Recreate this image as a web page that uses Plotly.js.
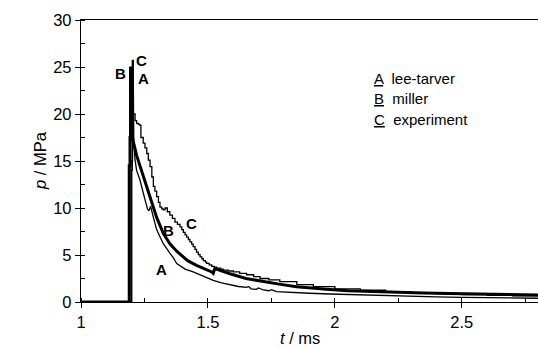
<!DOCTYPE html>
<html>
<head>
<meta charset="utf-8">
<script src="https://cdn.plot.ly/plotly-3.0.1.min.js"></script>
<style>html,body{margin:0;padding:0;background:#fff;}#chart{width:538px;height:349px;}</style>
</head>
<body>
<div id="chart"></div>
<script>
// A: lee-tarver
const aX = [1, 1.197, 1.197, 1.203, 1.203, 1.206, 1.208, 1.213, 1.219, 1.232, 1.252, 1.262, 1.268, 1.274, 1.285, 1.298, 1.311, 1.324, 1.350, 1.364, 1.377, 1.41, 1.442, 1.455, 1.48, 1.521, 1.55, 1.587, 1.62, 1.652, 1.66, 1.67, 1.69, 1.70, 1.718, 1.74, 1.75, 1.77, 1.80, 1.849, 1.9, 1.98, 2.1, 2.2, 2.3, 2.4, 2.5, 2.6, 2.7, 2.8];
const aY = [0, 0, 15, 15, 23.5, 23.5, 17, 15.1, 14.0, 13.0, 10.9, 9.9, 9.7, 10.2, 9.0, 7.7, 6.95, 6.2, 5.2, 4.7, 4.1, 3.5, 3.2, 3.05, 2.7, 2.3, 2.05, 1.8, 1.65, 1.55, 1.65, 1.4, 1.35, 1.5, 1.28, 1.2, 1.32, 1.1, 1.05, 1.0, 0.93, 0.85, 0.75, 0.68, 0.6, 0.55, 0.5, 0.46, 0.43, 0.4];
// B: miller
const bX = [1, 1.19, 1.19, 1.193, 1.193, 1.195, 1.195, 1.198, 1.2, 1.205, 1.219, 1.24, 1.259, 1.272, 1.298, 1.324, 1.35, 1.377, 1.39, 1.42, 1.455, 1.49, 1.515, 1.521, 1.527, 1.55, 1.587, 1.65, 1.718, 1.78, 1.849, 1.9, 1.967, 2.05, 2.15, 2.25, 2.35, 2.45, 2.55, 2.65, 2.8];
const bY = [0, 0, 14.5, 14.5, 17.5, 17.5, 24.9, 24.9, 18, 17.2, 15.6, 13.8, 12.1, 11.0, 9.0, 7.3, 6.2, 5.4, 5.1, 4.4, 3.9, 3.5, 3.2, 3.05, 3.55, 3.35, 3.0, 2.5, 2.16, 1.9, 1.63, 1.5, 1.35, 1.2, 1.1, 1.0, 0.95, 0.9, 0.85, 0.8, 0.75];
// C: experiment
const cX = [1, 1.2, 1.2, 1.202, 1.202, 1.204, 1.206, 1.213, 1.219, 1.226, 1.232, 1.236, 1.245, 1.252, 1.259, 1.265, 1.272, 1.279, 1.285, 1.291, 1.298, 1.305, 1.311, 1.318, 1.324, 1.331, 1.34, 1.35, 1.36, 1.37, 1.38, 1.39, 1.397, 1.403, 1.41, 1.416, 1.423, 1.429, 1.436, 1.442, 1.449, 1.455, 1.462, 1.469, 1.476, 1.482, 1.49, 1.495, 1.505, 1.515, 1.525, 1.534, 1.55, 1.56, 1.58, 1.6, 1.625, 1.652, 1.68, 1.705, 1.74, 1.783, 1.85, 1.915, 2.0, 2.1, 2.2, 2.3, 2.4, 2.5, 2.6, 2.7, 2.8];
const cY = [0, 0, 14, 14, 25.7, 25.7, 20, 19.3, 19.0, 18.9, 18.8, 17.5, 16.9, 16.4, 15.8, 15.1, 14.4, 13.3, 12.3, 11.8, 11.2, 10.6, 10.1, 9.9, 9.8, 10.0, 9.6, 9.25, 8.9, 8.5, 8.25, 8.0, 7.7, 7.4, 7.15, 6.9, 6.65, 6.4, 6.15, 5.9, 5.6, 5.3, 5.05, 4.8, 4.6, 4.4, 4.25, 4.1, 3.95, 3.8, 3.7, 3.6, 3.5, 3.4, 3.3, 3.2, 3.05, 2.9, 2.7, 2.5, 2.35, 2.16, 1.85, 1.63, 1.4, 1.25, 1.1, 1.0, 0.9, 0.8, 0.72, 0.65, 0.6];

const xTicks = [1, 1.5, 2, 2.5];
const xTickText = ['1', '1.5', '2', '2.5'];
const yTicks = [0, 5, 10, 15, 20, 25, 30];

const legendRows = ['<u>A</u>  lee-tarver', '<u>B</u>  miller', '<u>C</u>  experiment'];

const tickFont = {family: 'Liberation Sans, Arial, sans-serif', size: 16.5, color: '#000'};
const lblFont = {family: 'Liberation Sans, Arial, sans-serif', size: 15, color: '#000', weight: 'bold'};
const legFont = {family: 'Liberation Sans, Arial, sans-serif', size: 15, color: '#000'};

const traces = [
  {x: aX, y: aY, mode: 'lines', line: {color: '#000', width: 1.3}, name: 'A'},
  {x: cX, y: cY, mode: 'lines', line: {color: '#000', width: 1.3, shape: 'hv'}, name: 'C'},
  {x: bX, y: bY, mode: 'lines', line: {color: '#000', width: 3}, name: 'B'}
];

const labels = [
  {x: 1.240, y: 25.74, text: 'C'},
  {x: 1.157, y: 24.36, text: 'B'},
  {x: 1.248, y: 23.83, text: 'A'},
  {x: 1.437, y: 8.40, text: 'C'},
  {x: 1.346, y: 7.66, text: 'B'},
  {x: 1.319, y: 3.51, text: 'A'}
].map(d => ({x: d.x, y: d.y, xref: 'x', yref: 'y', text: '<b>' + d.text + '</b>', showarrow: false, font: lblFont, xanchor: 'center', yanchor: 'middle'}));

const legendY = [23.83, 21.6, 19.45];
const legAnn = legendRows.map((t, i) => ({x: 2.146, y: legendY[i], xref: 'x', yref: 'y', text: t, showarrow: false, font: legFont, xanchor: 'left', yanchor: 'middle'}));

const titles = [
  {x: 0.48, y: 0, xref: 'paper', yref: 'paper', yshift: -36, text: '<i>t</i> / ms', showarrow: false, font: tickFont, xanchor: 'center', yanchor: 'middle'},
  {x: 0, y: 0.5, xref: 'paper', yref: 'paper', xshift: -41, text: '<i>p</i> / MPa', textangle: -90, showarrow: false, font: tickFont, xanchor: 'center', yanchor: 'middle'}
];

const layout = {
  width: 538, height: 349,
  margin: {l: 81, r: 0, t: 20, b: 47},
  paper_bgcolor: '#fff', plot_bgcolor: '#fff',
  showlegend: false,
  xaxis: {
    range: [1, 2.8], tickvals: xTicks, ticktext: xTickText,
    showgrid: false, zeroline: false, showline: true, linecolor: '#000', linewidth: 1.2,
    mirror: true, ticks: 'outside', ticklen: 5, tickcolor: '#000', tickfont: tickFont,
    minor: {dtick: 0.25, tick0: 1, ticks: 'inside', ticklen: 4, tickcolor: '#000', showgrid: false}
  },
  yaxis: {
    range: [0, 30], tickvals: yTicks,
    showgrid: false, zeroline: false, showline: true, linecolor: '#000', linewidth: 1.2,
    ticks: 'outside', ticklen: 5, tickcolor: '#000', tickfont: tickFont,
    minor: {dtick: 2.5, tick0: 0, ticks: 'inside', ticklen: 4, tickcolor: '#000', showgrid: false}
  },
  annotations: labels.concat(legAnn, titles)
};

Plotly.newPlot('chart', traces, layout, {staticPlot: true, displayModeBar: false});
</script>
</body>
</html>
